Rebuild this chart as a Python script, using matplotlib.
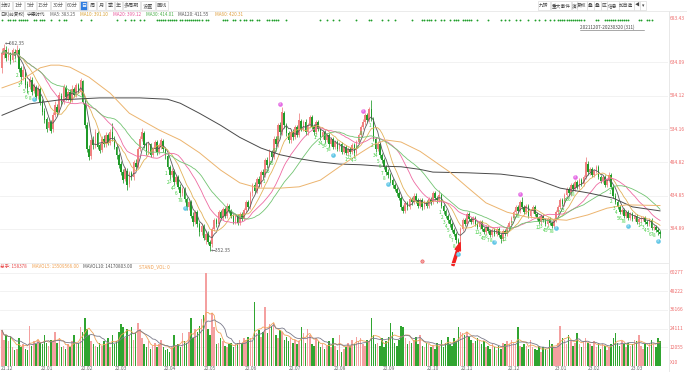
import numpy as np
import pandas as pd
import matplotlib
matplotlib.use("Agg")
import matplotlib.pyplot as plt
from matplotlib.lines import Line2D
from matplotlib.patches import Rectangle
import matplotlib.transforms as mtrans

plt.rcParams['font.family'] = ['Noto Sans CJK SC', 'DejaVu Sans']

# daily bars 2021-12-07 .. 2023-03-20 (311 bars)
opens = [
    625, 645, 652, 642, 648, 638, 650, 646, 652, 625, 613, 620, 602, 598, 608, 592, 598, 584, 594,  # 21.12
    576, 562, 550, 536, 545, 534, 556, 568, 560, 584, 575, 596, 580, 590, 578, 594, 586, 600, 590,  # 22.01
    606, 574, 540, 505, 494, 518, 510, 528, 510, 503, 520, 512, 525, 514, 530, 520,  # 22.02
    508, 495, 482, 470, 460, 472, 452, 468, 462, 484, 478, 505, 520, 528, 512, 500, 512, 496, 505, 515, 500, 508, 516,  # 22.03
    505, 494, 478, 466, 472, 455, 462, 448, 438, 445, 430, 418, 425, 405, 395, 410, 392, 380, 390,  # 22.04
    368, 378, 365, 362, 385, 398, 392, 410, 402, 415, 405, 420, 412, 404, 396, 404, 394, 408, 400,  # 22.05
    414, 425, 418, 438, 450, 442, 460, 452, 470, 465, 488, 480, 500, 492, 520, 512, 540, 530, 558, 540, 528,  # 22.06
    518, 530, 522, 538, 526, 546, 535, 545, 530, 540, 552, 538, 530, 545, 535, 522, 530, 518, 525, 512, 520,  # 22.07
    508, 515, 505, 512, 500, 508, 498, 505, 500, 510, 498, 515, 525, 538, 545, 555, 548, 565, 550, 520, 505, 512, 495,  # 22.08
    488, 478, 470, 465, 458, 450, 445, 438, 432, 418, 412, 424, 418, 430, 425, 435, 428, 420, 428, 418, 425,  # 22.09
    420, 430, 425, 438, 432, 428, 436, 420, 412, 405, 398, 392, 384, 378, 368, 362,  # 22.10
    385, 398, 392, 408, 400, 395, 402, 393, 388, 396, 385, 380, 388, 382, 376, 383, 378, 385, 376, 370, 382, 378,  # 22.11
    388, 394, 402, 410, 418, 412, 425, 418, 410, 420, 405, 412, 418, 408, 402, 396, 404, 398, 392, 400, 394, 390,  # 22.12
    398, 410, 418, 428, 422, 436, 444, 438, 450, 445, 455, 448, 458, 452, 462, 482,  # 23.01
    470, 475, 465, 472, 478, 462, 456, 462, 450, 458, 465, 448, 435, 425, 418, 410, 414, 405, 410, 402,  # 23.02
    408, 400, 405, 396, 400, 400, 402, 396, 392, 398, 386, 388, 384, 380,  # 23.03
]
closes = [
    648, 655, 640, 650, 636, 652, 645, 653, 624, 612, 622, 600, 596, 610, 590, 600, 582, 596, 575,
    560, 548, 535, 545, 532, 556, 570, 560, 585, 575, 598, 582, 590, 578, 595, 586, 600, 592, 608,
    575, 540, 505, 492, 518, 510, 530, 508, 502, 520, 512, 526, 514, 530, 520, 508,
    495, 480, 470, 458, 475, 450, 468, 462, 485, 478, 505, 520, 530, 510, 500, 512, 496, 505, 515, 500, 510, 518, 505,
    495, 478, 465, 472, 455, 462, 448, 438, 445, 430, 418, 425, 405, 395, 410, 392, 380, 390, 372,
    378, 365, 360, 385, 398, 392, 410, 402, 415, 405, 420, 412, 404, 396, 404, 394, 408, 400, 414,
    425, 418, 438, 450, 442, 460, 452, 470, 465, 488, 480, 500, 492, 520, 512, 540, 530, 560, 540, 528, 518,
    530, 522, 538, 526, 548, 535, 545, 530, 540, 552, 538, 530, 545, 535, 522, 530, 518, 525, 512, 520, 508,
    515, 505, 512, 500, 508, 498, 505, 500, 510, 498, 515, 525, 538, 545, 555, 548, 565, 550, 520, 505, 512, 495, 488,
    478, 470, 465, 458, 450, 445, 438, 432, 418, 412, 424, 418, 430, 425, 435, 428, 420, 428, 418, 425, 420,
    430, 425, 438, 432, 428, 436, 420, 412, 405, 398, 392, 384, 378, 368, 362, 385,
    398, 392, 408, 400, 395, 402, 393, 388, 396, 385, 380, 388, 382, 376, 383, 378, 385, 376, 370, 382, 378, 388,
    394, 402, 410, 418, 412, 425, 418, 410, 420, 405, 412, 418, 408, 402, 396, 404, 398, 392, 400, 394, 390, 398,
    410, 418, 428, 422, 436, 444, 438, 450, 445, 455, 448, 458, 452, 462, 485, 470,
    475, 465, 472, 478, 462, 456, 462, 450, 458, 465, 448, 435, 425, 418, 410, 414, 405, 410, 402, 408,
    400, 405, 396, 400, 400, 402, 396, 392, 398, 386, 388, 384, 380, 378,
]
highs = [
    655, 662.35, 658, 655, 650, 656, 654, 660, 655, 628, 628, 624, 606, 614, 612, 604, 600, 600, 598,
    580, 566, 553, 550, 548, 560, 576, 572, 590, 588, 602, 600, 595, 594, 600, 598, 604, 604, 611,
    608, 578, 545, 510, 522, 524, 534, 532, 514, 524, 526, 530, 528, 534, 543, 524,
    512, 498, 486, 474, 478, 476, 472, 472, 488, 490, 508, 524, 536, 532, 515, 516, 514, 508, 518, 518, 514, 521, 520,
    508, 497, 481, 476, 474, 466, 465, 452, 448, 448, 433, 428, 428, 410, 413, 414, 396, 394, 393,
    384, 382, 368, 388, 402, 401, 413, 414, 418, 418, 424, 423, 415, 407, 408, 407, 411, 411, 417,
    428, 428, 441, 454, 455, 463, 464, 473, 474, 491, 492, 504, 503, 524, 524, 544, 545, 568, 562, 544, 532,
    534, 534, 541, 541, 558, 550, 548, 549, 543, 556, 556, 542, 548, 548, 538, 533, 533, 528, 528, 523, 523,
    518, 518, 515, 515, 511, 511, 508, 508, 513, 513, 518, 528, 541, 549, 558, 559, 568, 578, 553, 523, 516, 515, 498,
    491, 481, 474, 468, 461, 453, 448, 441, 435, 421, 427, 427, 433, 433, 438, 438, 431, 431, 431, 428, 428,
    433, 433, 441, 441, 435, 443, 438, 423, 415, 408, 401, 395, 387, 381, 371, 388,
    401, 401, 411, 411, 403, 405, 405, 396, 399, 399, 388, 391, 391, 385, 386, 386, 388, 388, 379, 385, 385, 391,
    397, 405, 413, 421, 421, 428, 433, 421, 423, 423, 415, 421, 421, 411, 405, 407, 407, 401, 403, 403, 397, 401,
    413, 421, 431, 431, 439, 447, 447, 453, 453, 458, 458, 461, 461, 465, 493, 486,
    478, 478, 475, 481, 481, 465, 465, 465, 461, 470, 468, 451, 438, 428, 421, 417, 417, 413, 413, 411,
    411, 408, 408, 403, 404, 405, 405, 399, 401, 401, 391, 391, 387, 383,
]
lows = [
    618, 640, 636, 638, 632, 634, 640, 642, 620, 605, 608, 596, 588, 594, 586, 588, 578, 580, 570,
    555, 544, 530, 533, 528, 530, 552, 555, 558, 570, 572, 578, 576, 574, 575, 582, 583, 588, 586,
    572, 536, 500, 488, 490, 505, 506, 504, 498, 500, 508, 508, 510, 510, 516, 504,
    490, 476, 466, 454, 456, 443, 448, 458, 458, 474, 476, 502, 516, 506, 496, 497, 492, 492, 502, 496, 497, 505, 500,
    490, 474, 460, 462, 451, 452, 444, 433, 434, 426, 413, 414, 401, 390, 392, 388, 375, 376, 368,
    362, 362, 352.35, 358, 382, 388, 389, 398, 399, 402, 402, 409, 401, 392, 393, 391, 391, 397, 398,
    410, 414, 415, 434, 438, 438, 448, 448, 461, 462, 476, 477, 488, 489, 508, 508, 526, 526, 536, 524, 514,
    514, 518, 519, 522, 522, 531, 531, 526, 526, 536, 534, 526, 527, 531, 518, 519, 514, 515, 508, 509, 504,
    504, 502, 502, 497, 497, 495, 495, 497, 497, 493, 495, 512, 522, 534, 541, 545, 545, 546, 516, 500, 501, 491, 484,
    474, 466, 461, 454, 446, 441, 434, 428, 414, 409, 409, 414, 415, 421, 422, 424, 416, 416, 414, 415, 416,
    417, 421, 422, 428, 424, 425, 416, 408, 401, 394, 388, 380, 374, 364, 356, 360,
    382, 389, 389, 397, 392, 392, 390, 385, 385, 382, 377, 377, 379, 373, 373, 375, 375, 373, 364, 367, 375, 375,
    385, 391, 399, 407, 409, 409, 415, 407, 407, 402, 402, 409, 405, 399, 393, 393, 395, 389, 389, 391, 387, 387,
    395, 407, 415, 419, 419, 433, 435, 435, 442, 442, 445, 445, 449, 449, 459, 466,
    466, 462, 462, 469, 459, 453, 453, 447, 447, 455, 445, 432, 422, 415, 407, 407, 402, 402, 399, 399,
    397, 397, 393, 393, 396, 397, 393, 389, 389, 383, 383, 381, 376, 372,
]
# volume in thousands of axis units (axis shows 总手 / 10)
volumes = [
    23, 17, 20, 16, 19, 12, 10, 11, 18, 12, 14, 11, 10, 26, 13, 16, 14, 17, 15,
    14, 20, 15, 13, 17, 16, 22, 15, 18, 12, 13, 11, 14, 12, 16, 20, 14, 15, 25,
    22, 31, 24, 20, 16, 14, 13, 12, 15, 13, 16, 14, 18, 12, 20, 14,
    16, 22, 27, 25, 18, 24, 20, 25, 17, 21, 28, 24, 18, 14, 12, 16, 11, 13, 15, 12, 14, 17, 12,
    10, 11, 9, 12, 20, 13, 14, 12, 21, 16, 15, 22, 31, 18, 24, 22, 26, 30, 33,
    60, 24, 20, 34, 25, 14, 15, 18, 16, 13, 12, 14, 15, 12, 14, 15, 17, 15, 18,
    17, 19, 18, 16, 41, 21, 23, 19, 22, 38, 21, 27, 26, 28, 20, 18, 23, 22, 17, 19, 16,
    18, 15, 17, 14, 16, 25, 21, 15, 24, 20, 14, 13, 18, 16, 12, 14, 11, 13, 16, 12, 18,
    13, 10, 20, 9, 11, 12, 15, 13, 17, 14, 19, 16, 18, 14, 13, 17, 16, 31, 20, 14, 15, 13, 18,
    12, 16, 19, 28, 22, 15, 13, 17, 26, 25, 18, 14, 16, 15, 17, 19, 14, 20, 13, 12, 15,
    14, 12, 13, 11, 15, 13, 17, 12, 15, 19, 14, 13, 18, 16, 25, 22,
    21, 20, 22, 19, 17, 15, 16, 18, 17, 14, 16, 12, 13, 11, 14, 12, 10, 13, 11, 15, 14, 16,
    14, 17, 15, 14, 25, 13, 12, 14, 13, 11, 17, 12, 11, 10, 13, 9, 12, 11, 10, 17, 14, 12,
    12, 15, 26, 18, 17, 14, 20, 16, 13, 15, 21, 14, 12, 16, 18, 15,
    14, 13, 16, 12, 15, 11, 14, 13, 10, 12, 14, 18, 21, 15, 13, 16, 14, 12, 15, 13,
    14, 17, 16, 20, 13, 11, 14, 12, 15, 17, 14, 12, 18, 15.8,
]

# MA60 / MA120 (they need history before the first bar)
ma60_idx = [0, 8, 18, 23, 27, 32, 41, 51, 60, 74, 84, 93, 103, 112, 121, 131, 140, 150, 159, 169,
            175, 181, 188, 197, 211, 219, 228, 238, 247, 257, 266, 276, 285, 294, 310]
ma60_val = [596, 605, 626, 630, 630, 627, 612, 588, 558, 533, 518, 499, 473, 454, 446, 446, 448, 458, 478, 499,
            511, 518, 515, 501, 470, 448, 424, 410, 403, 400, 398, 406, 416, 421, 420]
ma120_idx = [0, 13, 27, 46, 65, 78, 84, 93, 103, 112, 122, 131, 140, 150, 159, 169, 178, 188, 197, 203,
             219, 235, 250, 263, 276, 288, 297, 310]
ma120_val = [555, 572, 578, 581, 581, 579, 573, 558, 540, 522, 506, 496, 490, 485, 482, 481, 479, 478, 474, 470,
             469, 467, 461, 446, 439, 431, 418, 412]

month_labels = ['21.12', '22.01', '22.02', '22.03', '22.04', '22.05', '22.06', '22.07',
                '22.08', '22.09', '22.10', '22.11', '22.12', '23.01', '23.02', '23.03']
month_start = [0, 19, 38, 54, 77, 96, 115, 136, 157, 180, 201, 217, 239, 261, 277, 297]

price_ticks = [384.89, 434.85, 484.82, 534.16, 584.12, 634.09]
vol_ticks = [12.055, 24.111, 36.166, 48.222, 60.277]
vol_tick_labels = ['12055', '24111', '36166', '48222', '60277']

# 九转 markers: bar where the "9" lands
td_buy9 = [15, 86, 156, 182, 215, 232, 261, 295, 309]
td_sell9 = [132, 171, 245, 271]

# green signal dots on top row (bar indices)
dot_idx = [0, 3, 4, 5, 6, 8, 9, 10, 11, 12, 15, 16, 18, 19, 20, 23, 27, 29, 30, 37, 42, 54, 58, 61, 62,
           65, 67, 73, 74, 75, 76, 77, 78, 79, 80, 81, 82, 84, 85, 86, 87, 88, 89, 90, 91, 92, 93, 94, 96,
           97, 104, 105, 106, 109, 110, 112, 114, 115, 117, 118, 120, 121, 125, 126, 127, 128, 129, 130,
           134, 150, 153, 156, 159, 167, 173, 174, 179, 182, 185, 193, 198, 199, 200, 201, 202, 204, 207,
           208, 211, 213, 214, 215, 217, 218, 219, 220, 221, 224, 229, 235, 237, 239, 242, 244, 248, 251,
           253, 256, 258, 260, 262, 263, 264, 265, 266, 267, 268, 269, 270, 271, 272, 273, 274, 280, 281,
           284, 285, 286, 287, 288, 289, 290, 291, 292, 293, 294, 295, 300, 301, 304, 305, 306]

W, H = 687, 372
UP, DN = '#f08080', '#1f9a28'
VUP, VDN = '#f4a0a0', '#30a530'
AXC = '#ee6b6b'
FS = 3.5     # axis numbers
LFS = 3.3    # legend rows

fig = plt.figure(figsize=(W / 100, H / 100), dpi=100)


def fx(px):
    return px / W


def fy(py):
    return 1 - py / H


def hline(y, x0, x1, c='#ececec', lw=0.6):
    fig.add_artist(Line2D([fx(x0), fx(x1)], [fy(y), fy(y)], color=c, lw=lw, transform=fig.transFigure))


# price panel: y px 17..262, volume panel: y px 262..366
p_lo = 384.89 - (262 - 229) / 0.6685
p_hi = 384.89 + (229 - 17) / 0.6685
ax_p = fig.add_axes([0, fy(262), fx(668), (262 - 17) / H])
ax_v = fig.add_axes([0, fy(366), fx(668), (366 - 262) / H])
xmin = -2 / 2.1226
xmax = xmin + 668 / 2.1226
for ax in (ax_p, ax_v):
    ax.set_xlim(xmin, xmax)
    ax.axis('off')
ax_p.set_ylim(p_lo, p_hi)
ax_v.set_ylim(0, (366 - 262) * 0.6447)

o = np.array(opens, float)
c = np.array(closes, float)
h = np.array(highs, float)
l = np.array(lows, float)
v = np.array(volumes, float)
idx = np.arange(len(c))

for t in price_ticks:
    ax_p.axhline(t, color='#f0f0f0', lw=0.6, zorder=0)
    ax_p.text(1.003, t, f'{t:.2f}', transform=mtrans.blended_transform_factory(ax_p.transAxes, ax_p.transData),
              color=AXC, fontsize=FS, va='center', ha='left')
for t, s in zip(vol_ticks, vol_tick_labels):
    ax_v.axhline(t, color='#f0f0f0', lw=0.6, zorder=0)
    ax_v.text(1.003, t, s, transform=mtrans.blended_transform_factory(ax_v.transAxes, ax_v.transData),
              color=AXC, fontsize=FS, va='center', ha='left')
fig.text(fx(670), fy(363), 'X10', color=AXC, fontsize=FS, va='center', ha='left')
fig.text(fx(670), fy(18), '683.43', color=AXC, fontsize=FS, va='center', ha='left')

# candles
up = c >= o
col = np.where(up, UP, DN)
ax_p.vlines(idx, l, h, colors=col, lw=0.55, zorder=2)
body = np.maximum(np.abs(c - o), 0.8)
ax_p.bar(idx, body, bottom=np.minimum(o, c), width=0.78, color=col, linewidth=0, zorder=2)

# moving averages
cs = pd.Series(c)
ax_p.plot(idx, cs.rolling(5, min_periods=1).mean(), color='#5a5a5a', lw=0.6, zorder=3)
ax_p.plot(idx, cs.rolling(10, min_periods=1).mean(), color='#e2b25a', lw=0.6, zorder=3)
ax_p.plot(idx, cs.rolling(20, min_periods=1).mean(), color='#ee6aa2', lw=0.6, zorder=3)
ax_p.plot(idx, cs.rolling(30, min_periods=1).mean(), color='#72c472', lw=0.6, zorder=3)
ax_p.plot(ma120_idx, ma120_val, color='#4a4a4a', lw=0.7, zorder=3)
ax_p.plot(ma60_idx, ma60_val, color='#ecb46e', lw=0.7, zorder=3)

# 九转 labels
for k in td_buy9 + td_sell9:
    for j in range(1, 9):
        b = k - 9 + j
        ax_p.text(b - 0.8, l[b] - 2, str(j), color='#3ccc3c', fontsize=3.3, ha='center', va='top', zorder=4)
for k in td_buy9:
    ax_p.scatter(k, l[k] - 9, s=11, color='#62c6e6', zorder=5, linewidths=0)
    ax_p.text(k, l[k] - 9, '9', color='#e8fbff', fontsize=2.6, ha='center', va='center', zorder=6)
for k in td_sell9:
    ax_p.scatter(k - 1, h[k] + 4, s=11, color='#e46ce4', zorder=5, linewidths=0)
    ax_p.text(k - 1, h[k] + 4, '9', color='#fff0ff', fontsize=2.6, ha='center', va='center', zorder=6)

# max / min marks
ih, il = int(np.argmax(h)), int(np.argmin(l))
ax_p.text(ih + 0.3, h[ih], f'←{h[ih]:.2f}', color='#555555', fontsize=FS, ha='left', va='center', zorder=6)
ax_p.text(il + 0.3, l[il], f'←{l[il]:.2f}', color='#555555', fontsize=FS, ha='left', va='center', zorder=6)

# volume
vcol = np.where(up, VUP, VDN)
ax_v.bar(idx, v, width=0.72, color=vcol, linewidth=0, zorder=2)
vs = pd.Series(v)
ax_v.plot(idx, vs.rolling(5, min_periods=1).mean(), color='#f0a45a', lw=0.6, zorder=3)
ax_v.plot(idx, vs.rolling(10, min_periods=1).mean(), color='#7a7a8a', lw=0.6, zorder=3)

# x labels
for s, b in zip(month_labels, month_start):
    xp = (b - 0.8 - xmin) * 2.1226
    fig.text(fx(xp), fy(368), s, color='#666666', fontsize=FS, ha='left', va='center')

# signal dots
tr = mtrans.blended_transform_factory(ax_p.transData, fig.transFigure)
ax_p.scatter(dot_idx, [fy(19.5)] * len(dot_idx), s=1.8, color='#1f9e2a', transform=tr,
             linewidths=0, clip_on=False, zorder=5)

# frame lines
fig.add_artist(Line2D([fx(668.5), fx(668.5)], [0, fy(11)], color='#e4e4e4', lw=0.6, transform=fig.transFigure))
hline(11, 0, 687, '#e8e8e8')
hline(262.5, 0, 668, '#e8e8e8')

# toolbar left
tb_labels = ['分时', '1分', '5分', '15分', '30分', '60分', '日', '周', '月', '季', '年', '多周期', '设置', '画线']
tb_x0 = [0, 13, 25, 37, 51, 66, 80, 88, 97, 106, 115, 123, 141, 156]
tb_x1 = [12, 24, 36, 50, 65, 79, 87, 96, 105, 114, 122, 140, 155, 168]
for s, a, b in zip(tb_labels, tb_x0, tb_x1):
    sel = s == '日'
    fig.add_artist(Rectangle((fx(a), fy(10)), fx(b - a), 9 / H, transform=fig.transFigure,
                             fc='#2f7de1' if sel else 'white', ec='#dcdcdc', lw=0.5))
    fig.text(fx((a + b) / 2), fy(5.5), s, color='white' if sel else '#555555', fontsize=3.7,
             ha='center', va='center')

# toolbar right
rb_labels = ['九转', '重大事件', '演', '复权', '叠', '叠', '区', '信息', '加自选', '◀', '▾']
rb_x0 = [538, 551, 572, 577, 587, 594, 601, 607, 619, 634, 640]
rb_x1 = [550, 571, 577, 587, 594, 601, 607, 619, 634, 640, 646]
for s, a, b in zip(rb_labels, rb_x0, rb_x1):
    fig.add_artist(Rectangle((fx(a), fy(10)), fx(b - a), 9 / H, transform=fig.transFigure,
                             fc='white', ec='#dcdcdc', lw=0.5))
    fig.text(fx((a + b) / 2), fy(5.5), s, color='#444444', fontsize=3.4, ha='center', va='center')

# legend row
leg = [('日K(前复权)', 0, '#444444'), ('宁德时代', 27, '#444444'), ('MA5: 383.25', 50, '#666666'),
       ('MA10: 391.10', 80, '#d9a030'), ('MA20: 399.12', 113, '#e8559a'), ('MA30: 414.01', 146, '#4cb04c'),
       ('MA120: 411.55', 178, '#555555'), ('MA60: 420.31', 215, '#e0a040')]
for s, xp, cc in leg:
    fig.text(fx(xp), fy(14.5), s, color=cc, fontsize=LFS, ha='left', va='center')

fig.text(fx(580), fy(27), '20211207-20230320 (311)', color='#444444', fontsize=LFS, ha='left', va='center')
hline(30, 580, 644, '#666666', 0.4)

vleg = [('总手: 158378', 0, '#e84a4a'), ('MAVOL5: 15509566.00', 32, '#f0a050'),
        ('MAVOL10: 14170803.00', 83, '#555555'), ('STAND_VOL: 0', 139, '#f0a050')]
for s, xp, cc in vleg:
    fig.text(fx(xp), fy(267), s, color=cc, fontsize=LFS, ha='left', va='center')

# event marker and arrow
fig.add_artist(Line2D([fx(421.7)], [fy(260.7)], marker='o', ms=2.4, mfc='#f6a0a0', mec='#e85050',
                      mew=0.4, transform=fig.transFigure))
ax_p.annotate('', xy=(461, H - 240), xytext=(452, H - 268), xycoords='figure pixels',
              textcoords='figure pixels', annotation_clip=False,
              arrowprops=dict(arrowstyle='simple,head_length=0.7,head_width=0.5,tail_width=0.2',
                              color='#f22020', mutation_scale=8))

fig.savefig('out.png', dpi=100)
